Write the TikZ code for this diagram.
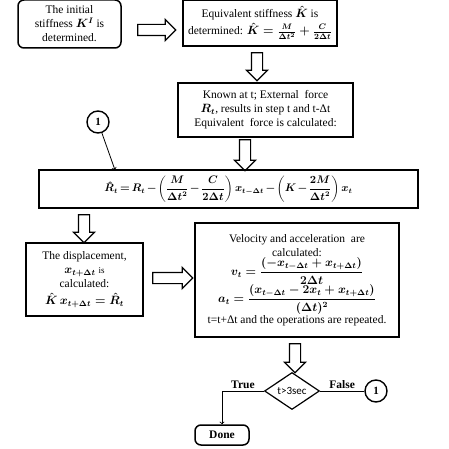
\documentclass[tikz,border=0pt]{standalone}
\usepackage{amsmath}
\usepackage{bm}
\usepackage{fontspec}
\setmainfont{Liberation Serif}
\newfontfamily\condfont{Carlito}
\usetikzlibrary{positioning, shapes.geometric, shapes.arrows}

\begin{document}
\begin{tikzpicture}[x=1pt, y=-1pt,
        flowbox/.style={rectangle, draw, line width=1.5pt, align=center, inner sep=2pt, font=\fontsize{11.5}{14}\selectfont\boldmath},
        roundbox/.style={flowbox, rounded corners=6pt},
        blockarrow/.style={single arrow, draw, line width=1.2pt, fill=white, minimum width=20pt, single arrow head extend=5pt, inner sep=5pt},
        connector/.style={circle, draw, line width=1.4pt, minimum size=22pt, inner sep=0pt, font=\bfseries\fontsize{11}{12}\selectfont},
        decision/.style={diamond, draw, line width=1.2pt, minimum width=55pt, minimum height=37pt, inner sep=0pt, aspect=1.5, font=\condfont\fontsize{11}{12}\selectfont},
        flowline/.style={line width=0.8pt},
        flowlabel/.style={font=\bfseries\fontsize{11.5}{13}\selectfont, inner sep=2pt},
]
        \useasboundingbox (0,0) rectangle (449,449);

        \node[roundbox, minimum width=103pt, minimum height=48pt] (initial) at (69.5,24) {The initial\\ stiffness $K^I$ is\\ determined.};
        \node[blockarrow, minimum height=38pt] (arrowa) at (154,30) {};
        \node[flowbox, minimum width=154pt, minimum height=46pt] (equiv) at (260,23) {Equivalent stiffness $\hat{K}$ is\\[3pt] determined: $\hat{K}=\frac{M}{\Delta t^2}+\frac{C}{2\Delta t}$};
        \node[blockarrow, shape border rotate=270, minimum height=28pt] (arrowb) at (257,64) {};
        \node[flowbox, minimum width=175pt, minimum height=54pt] (known) at (265.5,110) {Known at t; External\ \ force\\ $R_t$, results in step t and t-Δt\\ Equivalent\ \ force is calculated:};
        \node[blockarrow, shape border rotate=270, minimum height=31pt] (arrowc) at (245,152.5) {};
        \node[connector] (repeat) at (98,122) {1};
        \coordinate (entry) at (115,170);

        \node[flowbox, minimum width=379pt, minimum height=38pt, font=\fontsize{10.5}{12}\selectfont\boldmath] (force) at (228.5,189) {$\medmuskip=2mu \thickmuskip=3mu \hat{R}_t = R_t - \left(\dfrac{M}{\Delta t^2}-\dfrac{C}{2\Delta t}\right)x_{t-\Delta t} - \left(K-\dfrac{2M}{\Delta t^2}\right)x_t$};
        \node[blockarrow, shape border rotate=270, minimum height=28pt] (arrowd) at (84,226) {};

        \node[flowbox, minimum width=117pt, minimum height=73pt] (disp) at (84.5,279.5) {The displacement,\\ $x_{t+\Delta t}$ {\small is}\\ calculated:\\[3pt] $\hat{K}\,x_{t+\Delta t}=\hat{R}_t$};
        \node[blockarrow, minimum height=40pt] (arrowe) at (170,278) {};
        \node[flowbox, minimum width=204pt, minimum height=114pt] (motion) at (297,280) {Velocity and acceleration\ \ are\\ calculated:\\ $v_t=\dfrac{(-x_{t-\Delta t}+x_{t+\Delta t})}{2\Delta t}$\\[-1pt] $a_t=\dfrac{(x_{t-\Delta t}-2x_t+x_{t+\Delta t})}{(\Delta t)^2}$\\ t=t+Δt and the operations are repeated.};
        \node[blockarrow, shape border rotate=270, minimum height=29pt] (arrowf) at (295,355.5) {};

        \node[decision] (check) at (292,391) {t>3sec};
        \node[connector] (back) at (376,391) {1};
        \node[roundbox, minimum width=54pt, minimum height=20pt, font=\bfseries\fontsize{11.5}{13}\selectfont] (done) at (222,435) {Done};

        \draw[flowline, ->] (repeat) -- (entry);
        \draw[flowline] (check.east) -- node[above, flowlabel] {False} (back.west);
        \draw[flowline, ->] (check.west) -| node[above, pos=0.25, flowlabel] {True} (done.north);
\end{tikzpicture}
\end{document}
